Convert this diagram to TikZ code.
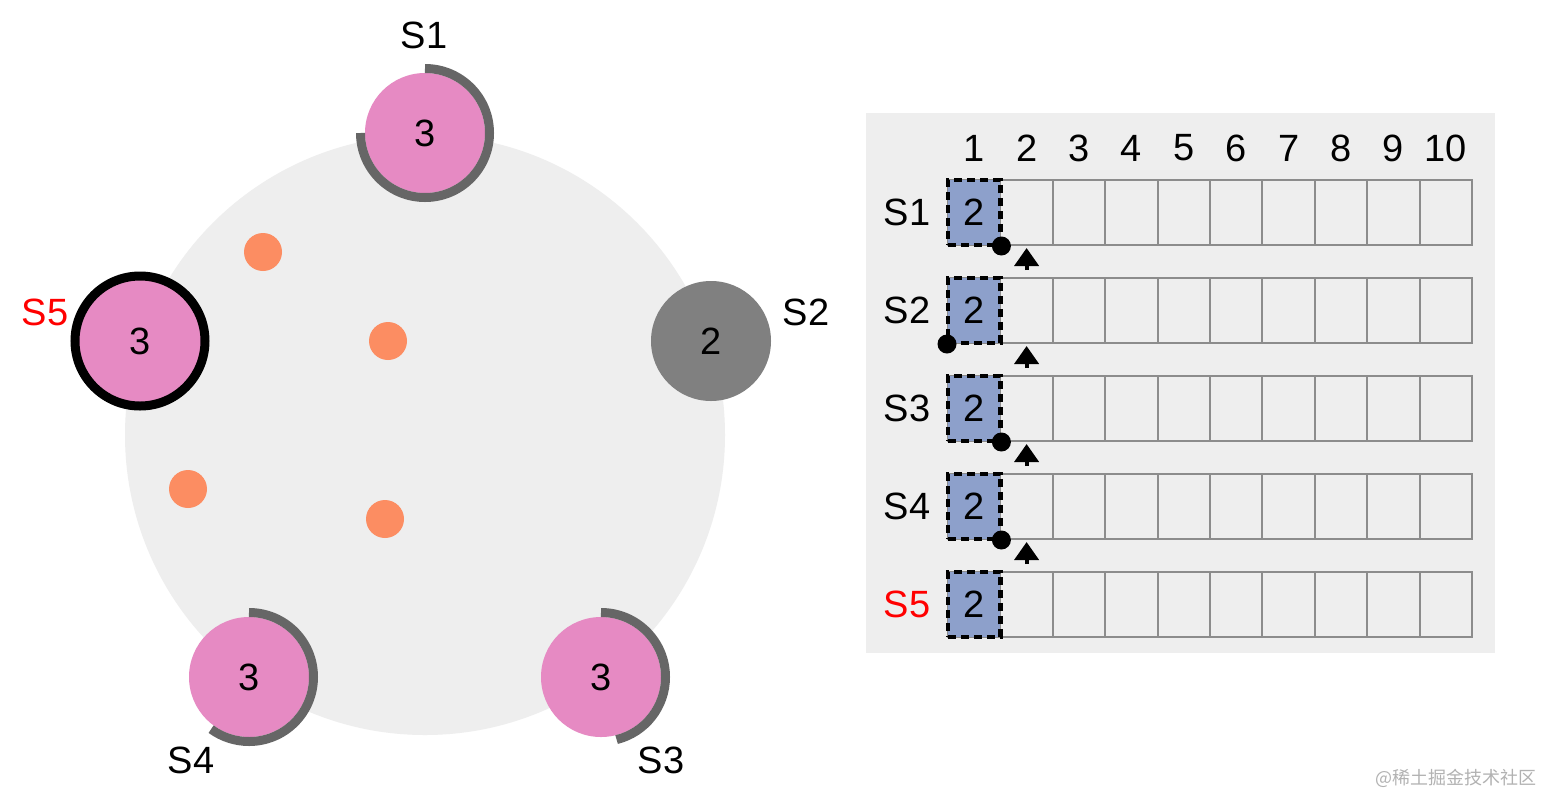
\documentclass[tikz,border=0pt]{standalone}
\usepackage{fontspec}
\setmainfont{Liberation Sans}
\newfontfamily\cjk{Noto Sans CJK SC}
\usetikzlibrary{arrows.meta}
\definecolor{pinkc}{HTML}{E68AC3}
\definecolor{orangec}{HTML}{FC8D62}
\definecolor{bluec}{HTML}{8DA0CB}
\definecolor{bgc}{HTML}{EEEEEE}
\definecolor{arcc}{HTML}{666666}
\definecolor{gridc}{HTML}{8C8C8C}
\definecolor{srvgray}{HTML}{808080}
\definecolor{redc}{HTML}{FF0000}
\begin{document}
\begin{tikzpicture}[x=1pt,y=1pt,
  big/.style={font=\fontsize{38}{40}\selectfont, inner sep=0pt},
  server/.style={circle, fill=pinkc, minimum size=120pt, inner sep=0pt, font=\fontsize{38}{40}\selectfont},
  prog/.style={draw=arcc, line width=9pt},
  vote/.style={circle, fill=orangec, minimum size=38pt, inner sep=0pt},
  cell/.style={draw=gridc, line width=2pt, minimum width=52.4pt, minimum height=65pt, inner sep=0pt},
  entry/.style={fill=bluec, draw=black, line width=4.5pt, dash pattern=on 8pt off 5pt, minimum width=52.4pt, minimum height=65pt, inner sep=0pt, font=\fontsize{38}{40}\selectfont},
  commitpt/.style={circle, fill=black, minimum size=19pt, inner sep=0pt},
  ptr/.style={-{Triangle[width=24pt,length=18pt]}, line width=4pt, black},
]
\fill[white] (0,0) rectangle (1542,-796);
\useasboundingbox (0,0) rectangle (1542,-796);

% ring
\node[circle, fill=bgc, minimum size=600pt, inner sep=0pt] (ring) at (425,-435) {};

% orange votes
\node[vote] (v1) at (263,-252) {};
\node[vote] (v2) at (388,-341) {};
\node[vote] (v3) at (188,-489) {};
\node[vote] (v4) at (385,-519) {};

% servers
\node[server] (s1) at (425,-133) {3};
\node[circle, fill=srvgray, minimum size=120pt, inner sep=0pt, font=\fontsize{38}{40}\selectfont] (s2) at (711,-341) {2};
\node[server] (s3) at (601,-677) {3};
\node[server] (s4) at (249,-677) {3};
\node[server, draw=black, line width=9pt, minimum size=130pt] (s5) at (140,-341) {3};

% progress arcs
\draw[prog] ([shift={(90:64.5)}]s1.center) arc[start angle=90, end angle=-180, radius=64.5];
\draw[prog] ([shift={(90:64.5)}]s3.center) arc[start angle=90, end angle=-76, radius=64.5];
\draw[prog] ([shift={(90:64.5)}]s4.center) arc[start angle=90, end angle=-126, radius=64.5];

% server labels
\node[big] (l1) at (424,-35) {S1};
\node[big] (l2) at (806,-312) {S2};
\node[big] (l3) at (661,-760) {S3};
\node[big] (l4) at (191,-760) {S4};
\node[big, text=redc] (l5) at (45,-312) {S5};

% log panel
\fill[bgc] (866,-113) rectangle (1495,-653);
\foreach \i in {1,...,10} {
  \node[big] (h\i) at ({974.2+(\i-1)*52.4},-148) {\i};
  \foreach \j in {1,...,5} {
    \node[cell] (c\i-\j) at ({974.2+(\i-1)*52.4},{-212.5-(\j-1)*98}) {};
  }
}
\foreach \j in {1,...,5} {
  \node[entry] (e\j) at (c1-\j) {2};
}
\node[big] (r1) at (907,-212.5) {S1};
\node[big] (r2) at (907,-310.5) {S2};
\node[big] (r3) at (907,-408.5) {S3};
\node[big] (r4) at (907,-506.5) {S4};
\node[big, text=redc] (r5) at (907,-604.5) {S5};

% commit points
\node[commitpt] (p1) at (c1-1.south east) {};
\node[commitpt] (p2) at (c1-2.south west) {};
\node[commitpt] (p3) at (c1-3.south east) {};
\node[commitpt] (p4) at (c1-4.south east) {};

% next-index pointers
\foreach \j in {1,...,4} {
  \coordinate (a\j) at ([yshift=-24pt]c2-\j.south);
  \coordinate (b\j) at ([yshift=-2pt]c2-\j.south);
  \draw[ptr] (a\j) -- (b\j);
}

% watermark
\node[text=black!30, font=\cjk\fontsize{18}{18}\selectfont, inner sep=0pt] (wm) at (1456,-778) {@稀土掘金技术社区};
\end{tikzpicture}
\end{document}
